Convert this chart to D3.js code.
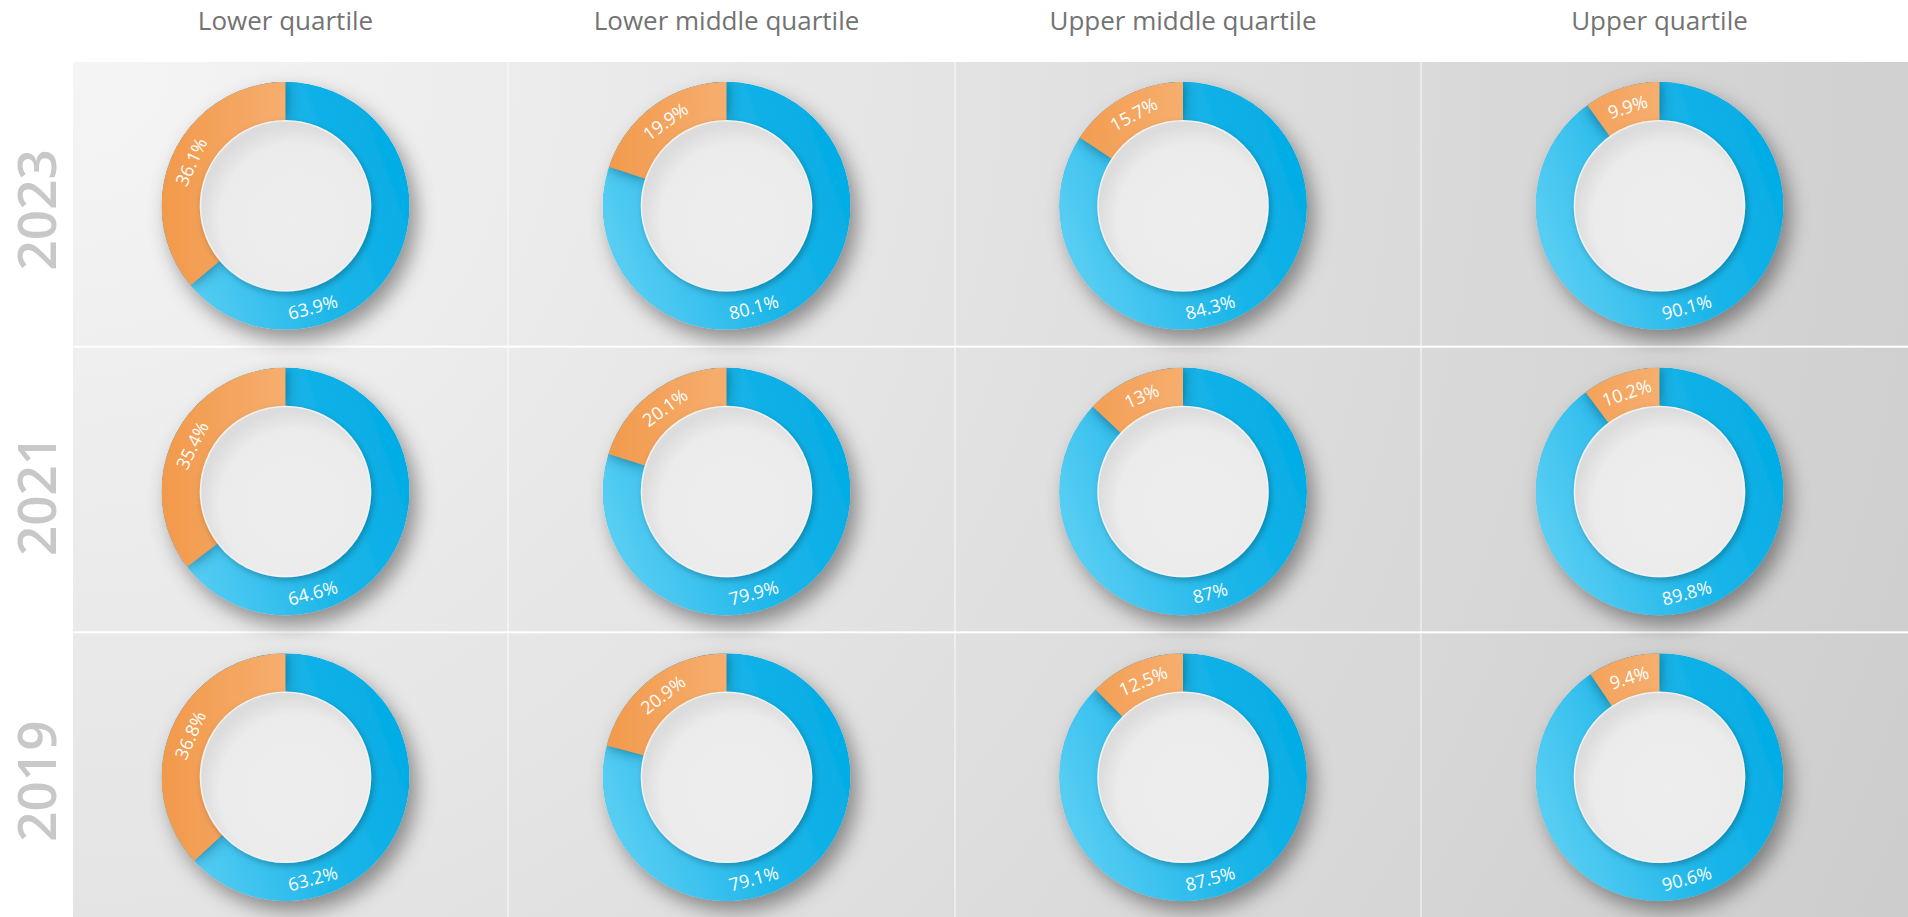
<!DOCTYPE html>
<html lang="en">
<head>
<meta charset="UTF-8">
<title>Quartile donuts</title>
<style>
  html, body { margin: 0; padding: 0; background: #fff; }
  svg { display: block; }
  .header { font: 26px "Open Sans", sans-serif; fill: #737373; }
  .year { font: 600 53px "Open Sans", sans-serif; fill: #c8c8c8; }
  .pct { font: 18px "Open Sans", sans-serif; fill: #fff; }
</style>
</head>
<body>
<svg width="1908" height="917"></svg>
<script src="https://d3js.org/d3.v7.min.js"></script>
<script>
// data
const quartiles = ["Lower quartile", "Lower middle quartile", "Upper middle quartile", "Upper quartile"];
const years = ["2023", "2021", "2019"];
const blueShare = [
  [63.9, 80.1, 84.3, 90.1],
  [64.6, 79.9, 87, 89.8],
  [63.2, 79.1, 87.5, 90.6]
];
const orangeShare = [
  [36.1, 19.9, 15.7, 9.9],
  [35.4, 20.1, 13, 10.2],
  [36.8, 20.9, 12.5, 9.4]
];

const width = 1908, height = 917;
const svg = d3.select("svg");
const defs = svg.append("defs");

// column edges are not even in the original dashboard
const x = d3.scaleLinear().domain([0, 1, 2, 3, 4]).range([73, 508, 955, 1421, 1908]);
const y = d3.scaleBand().domain(years).range([62, 917]).paddingInner(0.007);

const outerR = 124, innerR = 85, labelR = 104.5;
const blueLabelAngle = 165 * Math.PI / 180;

// ---- defs
const bg = defs.append("radialGradient").attr("id", "bg")
  .attr("gradientUnits", "userSpaceOnUse")
  .attr("cx", 73).attr("cy", 62).attr("r", 2000);
bg.append("stop").attr("offset", 0).attr("stop-color", "#f5f5f5");
bg.append("stop").attr("offset", 1).attr("stop-color", "#cdcdcd");

const blueGrad = defs.append("linearGradient").attr("id", "blueGrad")
  .attr("gradientUnits", "userSpaceOnUse")
  .attr("x1", -outerR).attr("y1", 60).attr("x2", outerR).attr("y2", -30);
blueGrad.append("stop").attr("offset", 0).attr("stop-color", "#5fd0f4");
blueGrad.append("stop").attr("offset", 0.55).attr("stop-color", "#1db6e9");
blueGrad.append("stop").attr("offset", 1).attr("stop-color", "#02ace5");

const orangeGrad = defs.append("linearGradient").attr("id", "orangeGrad")
  .attr("gradientUnits", "userSpaceOnUse")
  .attr("x1", -outerR).attr("y1", 0).attr("x2", 0).attr("y2", 0);
orangeGrad.append("stop").attr("offset", 0).attr("stop-color", "#f2994b");
orangeGrad.append("stop").attr("offset", 1).attr("stop-color", "#f6ae6e");

const innerGrad = defs.append("radialGradient").attr("id", "innerGrad")
  .attr("cx", 0.56).attr("cy", 0.58).attr("r", 0.56);
innerGrad.append("stop").attr("offset", 0).attr("stop-color", "#eeeeee");
innerGrad.append("stop").attr("offset", 0.8).attr("stop-color", "#ebebeb");
innerGrad.append("stop").attr("offset", 1).attr("stop-color", "#dcdcdc");

const drop = defs.append("filter").attr("id", "drop")
  .attr("x", "-40%").attr("y", "-40%").attr("width", "180%").attr("height", "180%");
drop.append("feDropShadow").attr("dx", 7).attr("dy", 10).attr("stdDeviation", 10)
  .attr("flood-color", "#000").attr("flood-opacity", 0.4);

const innerDrop = defs.append("filter").attr("id", "innerDrop")
  .attr("x", "-30%").attr("y", "-30%").attr("width", "160%").attr("height", "160%");
innerDrop.append("feDropShadow").attr("dx", 2).attr("dy", 3).attr("stdDeviation", 3)
  .attr("flood-color", "#000").attr("flood-opacity", 0.25);

const segBlur = defs.append("filter").attr("id", "segBlur")
  .attr("x", "-100%").attr("y", "-100%").attr("width", "300%").attr("height", "300%");
segBlur.append("feGaussianBlur").attr("stdDeviation", 7);

const arc = d3.arc().innerRadius(innerR).outerRadius(outerR);
const ringPath = arc({startAngle: 0, endAngle: 2 * Math.PI});
defs.append("clipPath").attr("id", "ringClip")
  .append("path").attr("d", ringPath);

// ---- background panel
svg.append("rect")
  .attr("x", x(0)).attr("y", y.range()[0])
  .attr("width", x(4) - x(0)).attr("height", y.range()[1] - y.range()[0])
  .attr("fill", "url(#bg)");

// column separators (faint) and row separators (white)
svg.selectAll(".colsep").data([1, 2, 3]).enter().append("rect")
  .attr("class", "colsep")
  .attr("x", d => x(d) - 1).attr("width", 2)
  .attr("y", y.range()[0]).attr("height", y.range()[1] - y.range()[0])
  .attr("fill", "#fff").attr("opacity", 0.45);

svg.selectAll(".rowsep").data(years.slice(1)).enter().append("rect")
  .attr("class", "rowsep")
  .attr("x", x(0)).attr("width", x(4) - x(0))
  .attr("y", d => y(d) - y.step() * y.paddingInner()).attr("height", y.step() * y.paddingInner())
  .attr("fill", "#fff");

// ---- headers and year labels
const colCenter = i => (x(i) + x(i + 1)) / 2 - 5;
const rowCenter = yr => y(yr) + y.bandwidth() / 2 + 2;

svg.selectAll(".header").data(quartiles).enter().append("text")
  .attr("class", "header")
  .attr("x", (d, i) => colCenter(i)).attr("y", 30)
  .attr("text-anchor", "middle")
  .text(d => d);

svg.selectAll(".year").data(years).enter().append("text")
  .attr("class", "year")
  .attr("transform", d => `translate(35,${rowCenter(d) + 4}) rotate(-90)`)
  .attr("text-anchor", "middle")
  .attr("dominant-baseline", "central")
  .text(d => d);

// ---- donuts
const pie = d3.pie().sort(null).value(d => d.v);

function labelRotation(a) {
  let deg = a * 180 / Math.PI;
  if (deg > 90 && deg < 270) deg -= 180;
  else if (deg >= 270) deg -= 360;
  return deg;
}

years.forEach((yr, ri) => {
  quartiles.forEach((q, ci) => {
    const slices = pie([
      {key: "blue", v: blueShare[ri][ci]},
      {key: "orange", v: orangeShare[ri][ci]}
    ]);
    const g = svg.append("g")
      .attr("transform", `translate(${colCenter(ci)},${rowCenter(yr)})`);

    const shadowed = g.append("g").attr("filter", "url(#drop)");
    const ring = shadowed.append("g").attr("clip-path", "url(#ringClip)");
    ring.append("path").attr("d", ringPath).attr("fill", "url(#blueGrad)");

    const orangeSlice = slices[1];
    // soft shade the orange slice throws onto the blue next to it
    ring.append("path")
      .attr("d", arc(orangeSlice))
      .attr("fill", "#0a4560").attr("opacity", 0.65)
      .attr("filter", "url(#segBlur)");
    ring.append("path")
      .attr("d", arc(orangeSlice))
      .attr("fill", "url(#orangeGrad)");

    // inner plate
    g.append("circle")
      .attr("r", innerR)
      .attr("fill", "url(#innerGrad)")
      .attr("stroke", "#f3f3f3").attr("stroke-width", 1.5)
      .attr("filter", "url(#innerDrop)");

    // labels
    g.selectAll(".pct").data(slices).enter().append("text")
      .attr("class", "pct")
      .attr("text-anchor", "middle")
      .attr("dominant-baseline", "central")
      .attr("transform", d => {
        const a = d.data.key === "blue" ? blueLabelAngle : (d.startAngle + d.endAngle) / 2;
        const px = Math.sin(a) * labelR, py = -Math.cos(a) * labelR;
        return `translate(${px},${py}) rotate(${labelRotation(a)})`;
      })
      .text(d => d.data.v + "%");
  });
});
</script>
</body>
</html>
